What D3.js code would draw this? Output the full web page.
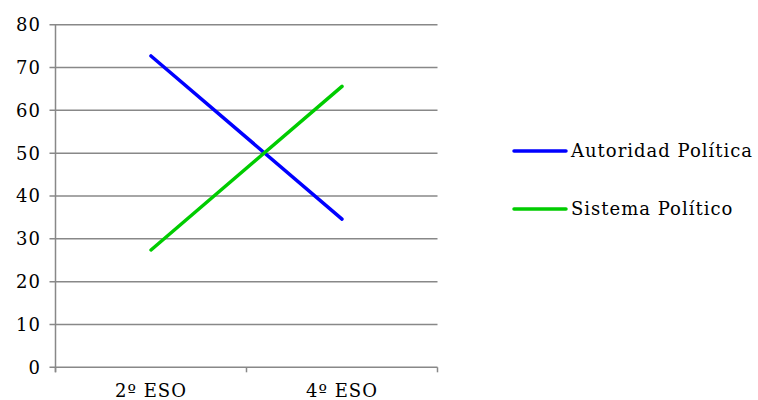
<!DOCTYPE html>
<html><head><meta charset="utf-8">
<script src="https://cdn.jsdelivr.net/npm/d3@7"></script>
<style>body{margin:0;background:#fff}svg{display:block}text{font-family:"DejaVu Serif",serif;fill:#000;letter-spacing:1px}</style>
</head><body>
<svg id="c" width="758" height="400"></svg>
<script>
const categories = ["2º ESO", "4º ESO"];
const seriesNames = ["Autoridad Política", "Sistema Político"];
const autoridad = [72.7, 34.6];
const sistema = [27.4, 65.6];
const yTicks = [0, 10, 20, 30, 40, 50, 60, 70, 80];
const colors = ["#0000ff", "#00cc00"];

(function () {
const svg = d3.select("#c");
const pL = 55.5, pR = 437.5, pT = 24.7, pB = 367.3;
const x = d3.scaleBand().domain(categories).range([pL, pR]);
const y = d3.scaleLinear().domain([0, 80]).range([pB, pT]);

svg.append("g").selectAll("line").data(yTicks).join("line")
  .attr("x1", pL - 6).attr("x2", pR).attr("y1", d => y(d)).attr("y2", d => y(d))
  .attr("stroke", "#888").attr("stroke-width", 1.5);
svg.append("line").attr("x1", pL).attr("x2", pL).attr("y1", pT).attr("y2", pB + 5)
  .attr("stroke", "#888").attr("stroke-width", 1.5);
const xt = [pL, pL + x.bandwidth(), pR];
svg.append("g").selectAll("line").data(xt).join("line")
  .attr("x1", d => d).attr("x2", d => d).attr("y1", pB).attr("y2", pB + 5)
  .attr("stroke", "#888").attr("stroke-width", 1.5);
svg.append("g").selectAll("text").data(yTicks).join("text")
  .attr("x", 41).attr("y", d => y(d)).attr("dy", "0.36em").attr("text-anchor", "end")
  .attr("font-size", 18).text(d => d);
svg.append("g").selectAll("text").data(categories).join("text")
  .attr("x", d => x(d) + x.bandwidth() / 2).attr("y", 397).attr("text-anchor", "middle")
  .attr("font-size", 18).text(d => d);

const series = [autoridad, sistema];
const line = d3.line().x((d, i) => x(categories[i]) + x.bandwidth() / 2).y(d => y(d));
series.forEach((s, k) => {
  svg.append("path").attr("d", line(s)).attr("fill", "none")
    .attr("stroke", colors[k]).attr("stroke-width", 3.5).attr("stroke-linecap", "round");
});
const lg = svg.append("g");
seriesNames.forEach((n, k) => {
  const ly = 151 + k * 58;
  lg.append("line").attr("x1", 514).attr("x2", 566).attr("y1", ly).attr("y2", ly)
    .attr("stroke", colors[k]).attr("stroke-width", 3.5).attr("stroke-linecap", "round");
  lg.append("text").attr("x", 571).attr("y", ly).attr("dy", "0.36em").attr("font-size", 18).text(n);
});
})();
</script>
</body></html>
